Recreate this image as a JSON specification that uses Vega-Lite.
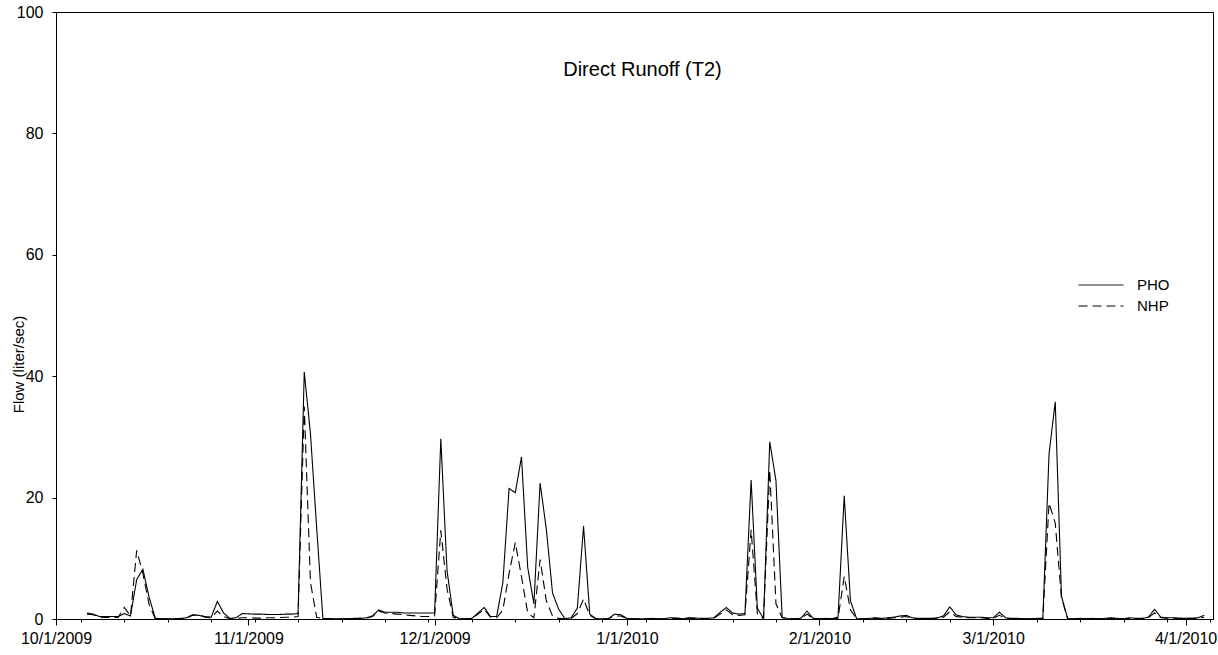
{
  "$schema": "https://vega.github.io/schema/vega-lite/v6.json",
  "width": 1157,
  "height": 607,
  "autosize": "none",
  "padding": {"left": 56, "top": 12, "right": 5, "bottom": 36},
  "background": "white",
  "config": {
    "font": "Liberation Sans",
    "view": {"stroke": "black", "strokeWidth": 1},
    "axis": {"domainColor": "black", "tickColor": "black", "labelColor": "black", "titleColor": "black", "grid": false, "labelFont": "Liberation Sans", "titleFont": "Liberation Sans"}
  },
  "title": {
    "text": "Direct Runoff (T2)",
    "font": "Liberation Sans",
    "fontSize": 20,
    "fontWeight": "normal",
    "color": "black",
    "anchor": "middle",
    "frame": "group",
    "baseline": "middle",
    "offset": -86,
    "dx": 8
  },
  "data": {
    "values": [
      {"d":"2009-10-06","PHO":1.0,"NHP":0.8},
      {"d":"2009-10-07","PHO":0.8,"NHP":0.7},
      {"d":"2009-10-08","PHO":0.4,"NHP":0.3},
      {"d":"2009-10-09","PHO":0.4,"NHP":0.25},
      {"d":"2009-10-10","PHO":0.4,"NHP":0.25},
      {"d":"2009-10-11","PHO":0.4,"NHP":0.25},
      {"d":"2009-10-12","PHO":0.9,"NHP":1.9},
      {"d":"2009-10-13","PHO":0.5,"NHP":0.5},
      {"d":"2009-10-14","PHO":6.5,"NHP":11.3},
      {"d":"2009-10-15","PHO":8.2,"NHP":7.5},
      {"d":"2009-10-16","PHO":3.6,"NHP":2.4},
      {"d":"2009-10-17","PHO":0.1,"NHP":0.05},
      {"d":"2009-10-18","PHO":0.05,"NHP":0.05},
      {"d":"2009-10-19","PHO":0.05,"NHP":0.05},
      {"d":"2009-10-20","PHO":0.05,"NHP":0.05},
      {"d":"2009-10-21","PHO":0.1,"NHP":0.05},
      {"d":"2009-10-22","PHO":0.2,"NHP":0.1},
      {"d":"2009-10-23","PHO":0.7,"NHP":0.6},
      {"d":"2009-10-24","PHO":0.6,"NHP":0.7},
      {"d":"2009-10-25","PHO":0.4,"NHP":0.3},
      {"d":"2009-10-26","PHO":0.3,"NHP":0.2},
      {"d":"2009-10-27","PHO":2.9,"NHP":1.3},
      {"d":"2009-10-28","PHO":1.0,"NHP":0.4},
      {"d":"2009-10-29","PHO":0.1,"NHP":0.05},
      {"d":"2009-10-30","PHO":0.2,"NHP":0.1},
      {"d":"2009-10-31","PHO":0.9,"NHP":0.2},
      {"d":"2009-11-01","PHO":0.85,"NHP":0.2},
      {"d":"2009-11-02","PHO":0.8,"NHP":0.15},
      {"d":"2009-11-03","PHO":0.8,"NHP":0.15},
      {"d":"2009-11-04","PHO":0.75,"NHP":0.2},
      {"d":"2009-11-05","PHO":0.75,"NHP":0.2},
      {"d":"2009-11-06","PHO":0.75,"NHP":0.25},
      {"d":"2009-11-07","PHO":0.8,"NHP":0.3},
      {"d":"2009-11-08","PHO":0.8,"NHP":0.3},
      {"d":"2009-11-09","PHO":0.9,"NHP":0.4},
      {"d":"2009-11-10","PHO":40.7,"NHP":35.0},
      {"d":"2009-11-11","PHO":30.5,"NHP":6.0},
      {"d":"2009-11-12","PHO":15.0,"NHP":0.3},
      {"d":"2009-11-13","PHO":0.1,"NHP":0.05},
      {"d":"2009-11-14","PHO":0.05,"NHP":0.05},
      {"d":"2009-11-15","PHO":0.05,"NHP":0.05},
      {"d":"2009-11-16","PHO":0.05,"NHP":0.05},
      {"d":"2009-11-17","PHO":0.05,"NHP":0.05},
      {"d":"2009-11-18","PHO":0.1,"NHP":0.05},
      {"d":"2009-11-19","PHO":0.1,"NHP":0.1},
      {"d":"2009-11-20","PHO":0.2,"NHP":0.15},
      {"d":"2009-11-21","PHO":0.5,"NHP":0.4},
      {"d":"2009-11-22","PHO":1.5,"NHP":1.3},
      {"d":"2009-11-23","PHO":1.1,"NHP":1.0},
      {"d":"2009-11-24","PHO":1.1,"NHP":0.9},
      {"d":"2009-11-25","PHO":1.1,"NHP":0.8},
      {"d":"2009-11-26","PHO":1.0,"NHP":0.7},
      {"d":"2009-11-27","PHO":1.0,"NHP":0.6},
      {"d":"2009-11-28","PHO":1.0,"NHP":0.5},
      {"d":"2009-11-29","PHO":1.0,"NHP":0.4},
      {"d":"2009-11-30","PHO":1.0,"NHP":0.4},
      {"d":"2009-12-01","PHO":1.0,"NHP":0.5},
      {"d":"2009-12-02","PHO":29.7,"NHP":14.6},
      {"d":"2009-12-03","PHO":8.0,"NHP":5.0},
      {"d":"2009-12-04","PHO":0.6,"NHP":0.3},
      {"d":"2009-12-05","PHO":0.05,"NHP":0.05},
      {"d":"2009-12-06","PHO":0.05,"NHP":0.05},
      {"d":"2009-12-07","PHO":0.1,"NHP":0.1},
      {"d":"2009-12-08","PHO":1.0,"NHP":0.8},
      {"d":"2009-12-09","PHO":1.9,"NHP":1.6},
      {"d":"2009-12-10","PHO":0.4,"NHP":0.3},
      {"d":"2009-12-11","PHO":0.4,"NHP":0.2},
      {"d":"2009-12-12","PHO":6.0,"NHP":1.5},
      {"d":"2009-12-13","PHO":21.5,"NHP":7.5},
      {"d":"2009-12-14","PHO":20.8,"NHP":12.6},
      {"d":"2009-12-15","PHO":26.7,"NHP":7.0},
      {"d":"2009-12-16","PHO":8.5,"NHP":1.0},
      {"d":"2009-12-17","PHO":2.5,"NHP":0.2},
      {"d":"2009-12-18","PHO":22.4,"NHP":9.8},
      {"d":"2009-12-19","PHO":14.8,"NHP":3.0},
      {"d":"2009-12-20","PHO":4.3,"NHP":0.5},
      {"d":"2009-12-21","PHO":1.6,"NHP":0.1},
      {"d":"2009-12-22","PHO":0.05,"NHP":0.05},
      {"d":"2009-12-23","PHO":0.2,"NHP":0.1},
      {"d":"2009-12-24","PHO":1.8,"NHP":0.9},
      {"d":"2009-12-25","PHO":15.3,"NHP":3.3},
      {"d":"2009-12-26","PHO":0.8,"NHP":0.6},
      {"d":"2009-12-27","PHO":0.05,"NHP":0.05},
      {"d":"2009-12-28","PHO":0.05,"NHP":0.05},
      {"d":"2009-12-29","PHO":0.05,"NHP":0.05},
      {"d":"2009-12-30","PHO":0.8,"NHP":0.5},
      {"d":"2009-12-31","PHO":0.7,"NHP":0.5},
      {"d":"2010-01-01","PHO":0.1,"NHP":0.05},
      {"d":"2010-01-02","PHO":0.05,"NHP":0.05},
      {"d":"2010-01-03","PHO":0.05,"NHP":0.05},
      {"d":"2010-01-04","PHO":0.05,"NHP":0.05},
      {"d":"2010-01-05","PHO":0.1,"NHP":0.05},
      {"d":"2010-01-06","PHO":0.05,"NHP":0.05},
      {"d":"2010-01-07","PHO":0.05,"NHP":0.05},
      {"d":"2010-01-08","PHO":0.2,"NHP":0.1},
      {"d":"2010-01-09","PHO":0.15,"NHP":0.1},
      {"d":"2010-01-10","PHO":0.05,"NHP":0.05},
      {"d":"2010-01-11","PHO":0.2,"NHP":0.1},
      {"d":"2010-01-12","PHO":0.15,"NHP":0.1},
      {"d":"2010-01-13","PHO":0.1,"NHP":0.05},
      {"d":"2010-01-14","PHO":0.1,"NHP":0.05},
      {"d":"2010-01-15","PHO":0.2,"NHP":0.1},
      {"d":"2010-01-16","PHO":1.1,"NHP":0.8},
      {"d":"2010-01-17","PHO":1.9,"NHP":1.5},
      {"d":"2010-01-18","PHO":1.0,"NHP":0.7},
      {"d":"2010-01-19","PHO":0.8,"NHP":0.6},
      {"d":"2010-01-20","PHO":0.9,"NHP":0.7},
      {"d":"2010-01-21","PHO":22.9,"NHP":14.7},
      {"d":"2010-01-22","PHO":1.8,"NHP":0.9},
      {"d":"2010-01-23","PHO":0.05,"NHP":0.05},
      {"d":"2010-01-24","PHO":29.2,"NHP":24.5},
      {"d":"2010-01-25","PHO":22.8,"NHP":2.5},
      {"d":"2010-01-26","PHO":0.3,"NHP":0.2},
      {"d":"2010-01-27","PHO":0.05,"NHP":0.05},
      {"d":"2010-01-28","PHO":0.05,"NHP":0.05},
      {"d":"2010-01-29","PHO":0.1,"NHP":0.05},
      {"d":"2010-01-30","PHO":1.3,"NHP":0.8},
      {"d":"2010-01-31","PHO":0.1,"NHP":0.05},
      {"d":"2010-02-01","PHO":0.05,"NHP":0.05},
      {"d":"2010-02-02","PHO":0.1,"NHP":0.05},
      {"d":"2010-02-03","PHO":0.05,"NHP":0.05},
      {"d":"2010-02-04","PHO":0.3,"NHP":0.1},
      {"d":"2010-02-05","PHO":20.3,"NHP":7.0},
      {"d":"2010-02-06","PHO":3.0,"NHP":1.5},
      {"d":"2010-02-07","PHO":0.05,"NHP":0.05},
      {"d":"2010-02-08","PHO":0.05,"NHP":0.05},
      {"d":"2010-02-09","PHO":0.1,"NHP":0.05},
      {"d":"2010-02-10","PHO":0.2,"NHP":0.1},
      {"d":"2010-02-11","PHO":0.1,"NHP":0.05},
      {"d":"2010-02-12","PHO":0.2,"NHP":0.1},
      {"d":"2010-02-13","PHO":0.3,"NHP":0.2},
      {"d":"2010-02-14","PHO":0.5,"NHP":0.3},
      {"d":"2010-02-15","PHO":0.6,"NHP":0.4},
      {"d":"2010-02-16","PHO":0.2,"NHP":0.1},
      {"d":"2010-02-17","PHO":0.1,"NHP":0.05},
      {"d":"2010-02-18","PHO":0.1,"NHP":0.05},
      {"d":"2010-02-19","PHO":0.1,"NHP":0.05},
      {"d":"2010-02-20","PHO":0.2,"NHP":0.1},
      {"d":"2010-02-21","PHO":0.5,"NHP":0.3},
      {"d":"2010-02-22","PHO":2.0,"NHP":1.2},
      {"d":"2010-02-23","PHO":0.7,"NHP":0.4},
      {"d":"2010-02-24","PHO":0.4,"NHP":0.3},
      {"d":"2010-02-25","PHO":0.3,"NHP":0.2},
      {"d":"2010-02-26","PHO":0.3,"NHP":0.2},
      {"d":"2010-02-27","PHO":0.3,"NHP":0.2},
      {"d":"2010-02-28","PHO":0.2,"NHP":0.1},
      {"d":"2010-03-01","PHO":0.2,"NHP":0.1},
      {"d":"2010-03-02","PHO":1.1,"NHP":0.6},
      {"d":"2010-03-03","PHO":0.2,"NHP":0.1},
      {"d":"2010-03-04","PHO":0.1,"NHP":0.05},
      {"d":"2010-03-05","PHO":0.1,"NHP":0.05},
      {"d":"2010-03-06","PHO":0.05,"NHP":0.05},
      {"d":"2010-03-07","PHO":0.05,"NHP":0.05},
      {"d":"2010-03-08","PHO":0.1,"NHP":0.05},
      {"d":"2010-03-09","PHO":0.1,"NHP":0.1},
      {"d":"2010-03-10","PHO":27.2,"NHP":19.1},
      {"d":"2010-03-11","PHO":35.8,"NHP":15.8},
      {"d":"2010-03-12","PHO":3.8,"NHP":3.5},
      {"d":"2010-03-13","PHO":0.05,"NHP":0.05},
      {"d":"2010-03-14","PHO":0.05,"NHP":0.05},
      {"d":"2010-03-15","PHO":0.1,"NHP":0.05},
      {"d":"2010-03-16","PHO":0.05,"NHP":0.05},
      {"d":"2010-03-17","PHO":0.1,"NHP":0.05},
      {"d":"2010-03-18","PHO":0.05,"NHP":0.05},
      {"d":"2010-03-19","PHO":0.1,"NHP":0.05},
      {"d":"2010-03-20","PHO":0.2,"NHP":0.1},
      {"d":"2010-03-21","PHO":0.1,"NHP":0.05},
      {"d":"2010-03-22","PHO":0.05,"NHP":0.05},
      {"d":"2010-03-23","PHO":0.2,"NHP":0.1},
      {"d":"2010-03-24","PHO":0.1,"NHP":0.05},
      {"d":"2010-03-25","PHO":0.1,"NHP":0.05},
      {"d":"2010-03-26","PHO":0.3,"NHP":0.2},
      {"d":"2010-03-27","PHO":1.6,"NHP":1.0},
      {"d":"2010-03-28","PHO":0.3,"NHP":0.2},
      {"d":"2010-03-29","PHO":0.2,"NHP":0.15},
      {"d":"2010-03-30","PHO":0.2,"NHP":0.15},
      {"d":"2010-03-31","PHO":0.1,"NHP":0.1},
      {"d":"2010-04-01","PHO":0.1,"NHP":0.1},
      {"d":"2010-04-02","PHO":0.1,"NHP":0.1},
      {"d":"2010-04-03","PHO":0.2,"NHP":0.1},
      {"d":"2010-04-04","PHO":0.6,"NHP":0.3}
    ]
  },
  "transform": [{"fold": ["PHO", "NHP"], "as": ["series", "flow"]}],
  "resolve": {"axis": {"x": "independent"}},
  "layer": [
    {
      "mark": {"type": "line", "color": "black", "strokeWidth": 1.1},
      "encoding": {
        "x": {
          "field": "d", "type": "temporal",
          "scale": {"type": "utc", "domain": [{"year": 2009, "month": 10, "date": 1, "utc": true}, {"year": 2010, "month": 4, "date": 5, "hours": 10, "utc": true}]},
          "axis": {
            "orient": "bottom", "title": null, "format": "%-m/%-d/%Y",
            "values": [
              {"year": 2009, "month": 10, "date": 1, "utc": true},
              {"year": 2009, "month": 11, "date": 1, "utc": true},
              {"year": 2009, "month": 12, "date": 1, "utc": true},
              {"year": 2010, "month": 1, "date": 1, "utc": true},
              {"year": 2010, "month": 2, "date": 1, "utc": true},
              {"year": 2010, "month": 3, "date": 1, "utc": true},
              {"year": 2010, "month": 4, "date": 1, "utc": true}
            ],
            "tickSize": 6, "labelPadding": 5, "labelFontSize": 16, "labelDx": -5, "labelFlush": false, "labelOverlap": false
          }
        },
        "y": {
          "field": "flow", "type": "quantitative",
          "scale": {"domain": [0, 100], "nice": false},
          "axis": {"title": "Flow (liter/sec)", "values": [0, 20, 40, 60, 80, 100], "tickSize": 4, "labelPadding": 9, "labelFontSize": 16, "titleFontSize": 15, "titleFontWeight": "normal", "titleX": -38, "titleY": 352, "titleAngle": 270, "titleAlign": "center", "titleBaseline": "middle"}
        },
        "strokeDash": {
          "field": "series", "type": "nominal",
          "scale": {"domain": ["PHO", "NHP"], "range": [[1, 0], [9, 5]]},
          "legend": {"orient": "none", "legendX": 1037, "legendY": 265, "title": null, "symbolType": "M-3,0H3", "symbolSize": 225, "symbolStrokeWidth": 1, "symbolStrokeColor": "black", "symbolFillColor": "transparent", "labelFontSize": 15, "labelFont": "Liberation Sans", "labelColor": "black", "rowPadding": 5, "labelOffset": 28, "padding": 0}
        }
      }
    },
    {
      "mark": {"type": "point", "opacity": 0},
      "encoding": {
        "x": {
          "field": "d", "type": "temporal",
          "axis": {
            "orient": "bottom", "title": null, "labels": false, "domain": false, "tickSize": 3,
            "values": [
              {"year": 2009, "month": 10, "date": 5, "utc": true},
              {"year": 2009, "month": 10, "date": 12, "utc": true},
              {"year": 2009, "month": 10, "date": 19, "utc": true},
              {"year": 2009, "month": 10, "date": 26, "utc": true},
              {"year": 2009, "month": 11, "date": 2, "utc": true},
              {"year": 2009, "month": 11, "date": 9, "utc": true},
              {"year": 2009, "month": 11, "date": 16, "utc": true},
              {"year": 2009, "month": 11, "date": 23, "utc": true},
              {"year": 2009, "month": 11, "date": 30, "utc": true},
              {"year": 2009, "month": 12, "date": 7, "utc": true},
              {"year": 2009, "month": 12, "date": 14, "utc": true},
              {"year": 2009, "month": 12, "date": 21, "utc": true},
              {"year": 2009, "month": 12, "date": 28, "utc": true},
              {"year": 2010, "month": 1, "date": 4, "utc": true},
              {"year": 2010, "month": 1, "date": 11, "utc": true},
              {"year": 2010, "month": 1, "date": 18, "utc": true},
              {"year": 2010, "month": 1, "date": 25, "utc": true},
              {"year": 2010, "month": 2, "date": 8, "utc": true},
              {"year": 2010, "month": 2, "date": 15, "utc": true},
              {"year": 2010, "month": 2, "date": 22, "utc": true},
              {"year": 2010, "month": 3, "date": 8, "utc": true},
              {"year": 2010, "month": 3, "date": 15, "utc": true},
              {"year": 2010, "month": 3, "date": 22, "utc": true},
              {"year": 2010, "month": 3, "date": 29, "utc": true},
              {"year": 2010, "month": 4, "date": 5, "utc": true}
            ]
          }
        }
      }
    }
  ]
}
